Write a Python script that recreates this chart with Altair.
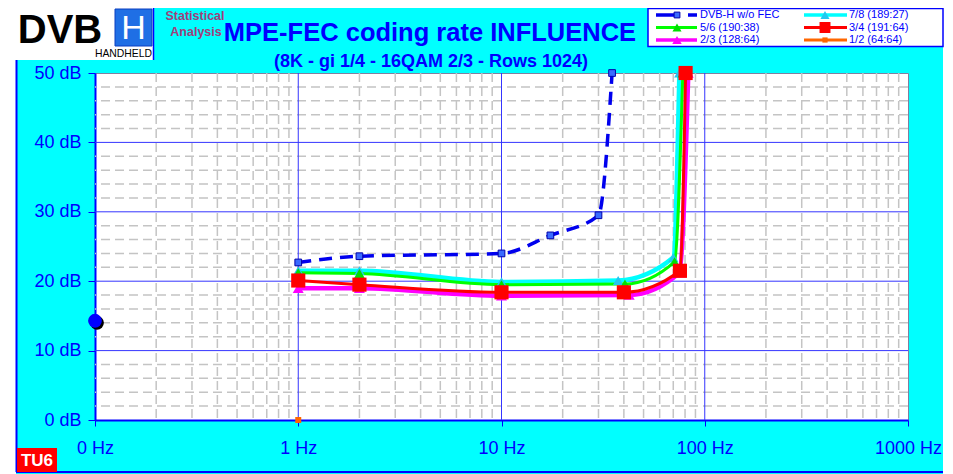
import altair as alt
import pandas as pd

# ---------------- data ----------------
SERIES = ["DVB-H w/o FEC", "7/8 (189:27)", "5/6 (190:38)", "3/4 (191:64)", "2/3 (128:64)", "1/2 (64:64)"]

F_NOFEC = [1, 2, 10, 17.4, 30, 35]
DB_NOFEC = [22.7, 23.6, 24.0, 26.6, 29.5, 50]

F_78 = [1, 2, 10, 37.5, 70, 75]
DB_78 = [21.5, 21.5, 19.9, 20.1, 23.4, 50]

F_56 = [1, 2, 10, 40.5, 71, 78]
DB_56 = [21.2, 21.1, 19.5, 19.6, 22.8, 50]

F_34 = [1, 2, 10, 40, 75.5, 80.5]
DB_34 = [20.1, 19.5, 18.4, 18.4, 21.5, 50]

F_23 = [1, 2, 10, 42.5, 75, 83]
DB_23 = [19.0, 19.0, 17.9, 18.0, 21.2, 50]

F_12 = [1]
DB_12 = [0]

REF_F = [0.1]
REF_DB = [14.3]

X_TICKS = [0.1, 1, 10, 100, 1000]
Y_TICKS = [0, 10, 20, 30, 40, 50]

TITLE = "MPE-FEC coding rate INFLUENCE"
SUBTITLE = "(8K - gi 1/4 - 16QAM 2/3 - Rows 1024)"

# ---------------- styling / layout ----------------
FONT = "Liberation Sans"
BLUE = "#0000FF"
OX, OY = 95, 73          # page position of the plot origin
W, H = 813, 347
PAD = {"left": 87, "top": 65, "right": 37, "bottom": 54}

def P(x):
    return x - OX

def Q(y):
    return y - OY

ONE = pd.DataFrame({"k": [0]})

XENC = alt.X("f:Q",
             scale=alt.Scale(type="log", domain=[0.1, 1000], nice=False),
             axis=alt.Axis(values=X_TICKS, title=None, grid=False,
                           labelExpr="datum.value < 0.5 ? '0 Hz' : datum.value + ' Hz'",
                           domainColor=BLUE, domainWidth=2, tickColor=BLUE, tickSize=6,
                           labelColor=BLUE, labelFont=FONT, labelFontSize=18,
                           labelPadding=13, labelFlush=False, labelOverlap=False))
YENC = alt.Y("db:Q",
             scale=alt.Scale(domain=[0, 50], nice=False, zero=False),
             axis=alt.Axis(values=Y_TICKS, title=None, grid=False,
                           labelExpr="datum.value + ' dB'",
                           domainColor=BLUE, domainWidth=2, tickColor=BLUE, tickSize=7,
                           labelColor=BLUE, labelFont=FONT, labelFontSize=18,
                           labelPadding=7, labelOverlap=False))


def rect(x1, y1, x2, y2, fill, stroke=None, sw=0):
    kw = dict(fill=fill, strokeWidth=sw, opacity=1)
    if stroke:
        kw["stroke"] = stroke
    return alt.Chart(ONE).mark_rect(**kw).encode(
        x=alt.value(P(x1)), x2=alt.value(P(x2)), y=alt.value(Q(y1)), y2=alt.value(Q(y2)))


def seg(x1, y1, x2, y2, color, w, dash=None):
    kw = dict(color=color, strokeWidth=w)
    if dash:
        kw["strokeDash"] = dash
    return alt.Chart(ONE).mark_rule(**kw).encode(
        x=alt.value(P(x1)), x2=alt.value(P(x2)), y=alt.value(Q(y1)), y2=alt.value(Q(y2)))


def text(s, x, y, size, color, bold=False, align="center"):
    return alt.Chart(ONE).mark_text(
        align=align, baseline="middle", fontSize=size, font=FONT, color=color,
        fontWeight="bold" if bold else "normal").encode(
        x=alt.value(P(x)), y=alt.value(Q(y)), text=alt.value(s))


def sym(x, y, shape, size, fill, stroke=None):
    kw = dict(shape=shape, size=size, filled=True, fill=fill, opacity=1)
    if stroke:
        kw["stroke"] = stroke
        kw["strokeWidth"] = 1
    return alt.Chart(ONE).mark_point(**kw).encode(x=alt.value(P(x)), y=alt.value(Q(y)))


layers = []

# page decorations (cyan background comes from chart background)
layers.append(rect(8, 8, 153, 60, "white"))
layers.append(rect(8, 60, 16, 474, "white"))
layers.append(rect(943, 8, 945, 474, "white"))
layers.append(seg(16.5, 60, 16.5, 472, BLUE, 2))
layers.append(seg(16, 472, 943, 472, BLUE, 2))
layers.append(seg(153.5, 8, 153.5, 60, BLUE, 1.5))

# logo
layers.append(text("DVB", 60, 31, 40, "black", bold=True))
layers.append(rect(115, 9, 152, 46, "#1F6FE5", stroke="#0B3FC0", sw=1))
layers.append(text("H", 133.5, 28.5, 34, "white"))
layers.append(text("HANDHELD", 123.5, 53.5, 10.4, "black"))
layers.append(text("Statistical", 195, 16, 12.5, "#A0407A", bold=True))
layers.append(text("Analysis", 196, 32, 12.5, "#A0407A", bold=True))

# titles
layers.append(text(TITLE, 430, 33, 25.5, BLUE, bold=True))
layers.append(text(SUBTITLE, 431, 62, 18, BLUE, bold=True))

# TU6 badge
layers.append(rect(17, 448, 57, 472, "#FF0000"))
layers.append(text("TU6", 37, 461, 17, "white", bold=True))

# grid
minor_x = [d * k for d in [0.1, 1, 10, 100] for k in range(2, 10)]
minor_y = [v for v in range(2, 50, 2) if v % 10 != 0]
layers.append(alt.Chart(pd.DataFrame({"f": minor_x})).mark_rule(
    color="#C4C4C4", strokeWidth=1.5, strokeDash=[9, 5]).encode(x=XENC))
layers.append(alt.Chart(pd.DataFrame({"db": minor_y})).mark_rule(
    color="#C4C4C4", strokeWidth=1.5, strokeDash=[9, 5]).encode(y=YENC))
layers.append(alt.Chart(pd.DataFrame({"f": [1, 10, 100]})).mark_rule(
    color="#3535FF", strokeWidth=1).encode(x=XENC))
layers.append(alt.Chart(pd.DataFrame({"db": [10, 20, 30, 40]})).mark_rule(
    color="#3535FF", strokeWidth=1).encode(y=YENC))

# series styles
STYLE = {
    "DVB-H w/o FEC": dict(f=F_NOFEC, db=DB_NOFEC, color="#0000EE", w=3.5, dash=[13, 8],
                          shape="square", size=45, fill="#3A6BFF", stroke="#0000AA"),
    "7/8 (189:27)": dict(f=F_78, db=DB_78, color="#00FFFF", w=4.5, dash=None,
                         shape="triangle-up", size=110, fill="#22C8F0", stroke=None),
    "5/6 (190:38)": dict(f=F_56, db=DB_56, color="#00FF00", w=3, dash=None,
                         shape="triangle-up", size=110, fill="#00E000", stroke=None),
    "2/3 (128:64)": dict(f=F_23, db=DB_23, color="#FF00FF", w=4.5, dash=None,
                         shape="triangle-up", size=120, fill="#FF00FF", stroke=None),
    "3/4 (191:64)": dict(f=F_34, db=DB_34, color="#FF0000", w=3, dash=None,
                         shape="square", size=200, fill="#FF0000", stroke=None),
    "1/2 (64:64)": dict(f=F_12, db=DB_12, color="#FF6600", w=3, dash=None,
                        shape="square", size=36, fill="#FF6600", stroke=None),
}
DRAW_ORDER = ["7/8 (189:27)", "5/6 (190:38)", "2/3 (128:64)", "3/4 (191:64)", "DVB-H w/o FEC", "1/2 (64:64)"]

for name in DRAW_ORDER:
    s = STYLE[name]
    df = pd.DataFrame({"f": s["f"], "db": s["db"]})
    if len(df) > 1:
        kw = dict(color=s["color"], strokeWidth=s["w"], interpolate="monotone")
        if s["dash"]:
            kw["strokeDash"] = s["dash"]
        layers.append(alt.Chart(df).mark_line(**kw).encode(x=XENC, y=YENC))
for name in DRAW_ORDER:
    s = STYLE[name]
    df = pd.DataFrame({"f": s["f"], "db": s["db"]})
    kw = dict(shape=s["shape"], size=s["size"], filled=True, fill=s["fill"], opacity=1)
    if s["stroke"]:
        kw["stroke"] = s["stroke"]
        kw["strokeWidth"] = 1
    layers.append(alt.Chart(df).mark_point(**kw).encode(x=XENC, y=YENC))

# reference point at 0 Hz (blue ball with shadow)
ref = pd.DataFrame({"f": REF_F, "db": REF_DB})
layers.append(alt.Chart(ref).mark_circle(size=190, color="black", opacity=1,
                                         xOffset=2, yOffset=2).encode(x=XENC, y=YENC))
layers.append(alt.Chart(ref).mark_circle(size=190, color="#0000FF", opacity=1).encode(x=XENC, y=YENC))

# legend (drawn by hand)
layers.append(rect(648, 8.5, 943, 46.5, "white", stroke=BLUE, sw=1.5))
LEG_ROW_Y = [15, 27.5, 40]
LEG_COLS = [(656, 697, 677, 700), (804, 847, 825, 849)]
LEG_ORDER = [["DVB-H w/o FEC", "7/8 (189:27)"], ["5/6 (190:38)", "3/4 (191:64)"], ["2/3 (128:64)", "1/2 (64:64)"]]
for r, row in enumerate(LEG_ORDER):
    for c, name in enumerate(row):
        s = STYLE[name]
        x1, x2, xm, xt = LEG_COLS[c]
        y = LEG_ROW_Y[r]
        layers.append(seg(x1, y, x2, y, s["color"], min(s["w"], 3.5), [22, 10] if s["dash"] else None))
        msize = s["size"] if s["size"] < 150 else 160
        layers.append(sym(xm, y, s["shape"], msize * 0.75, s["fill"], s["stroke"]))
        layers.append(text(name, xt, y, 11, BLUE, align="left"))

chart = alt.layer(*layers).properties(
    width=W, height=H, padding=PAD,
    autosize=alt.AutoSizeParams(type="none"),
    background="#00FFFF",
).configure_view(fill="white", stroke="#8080A0", strokeWidth=1)

chart.save("out.html", embed_options={"renderer": "svg", "actions": False})
